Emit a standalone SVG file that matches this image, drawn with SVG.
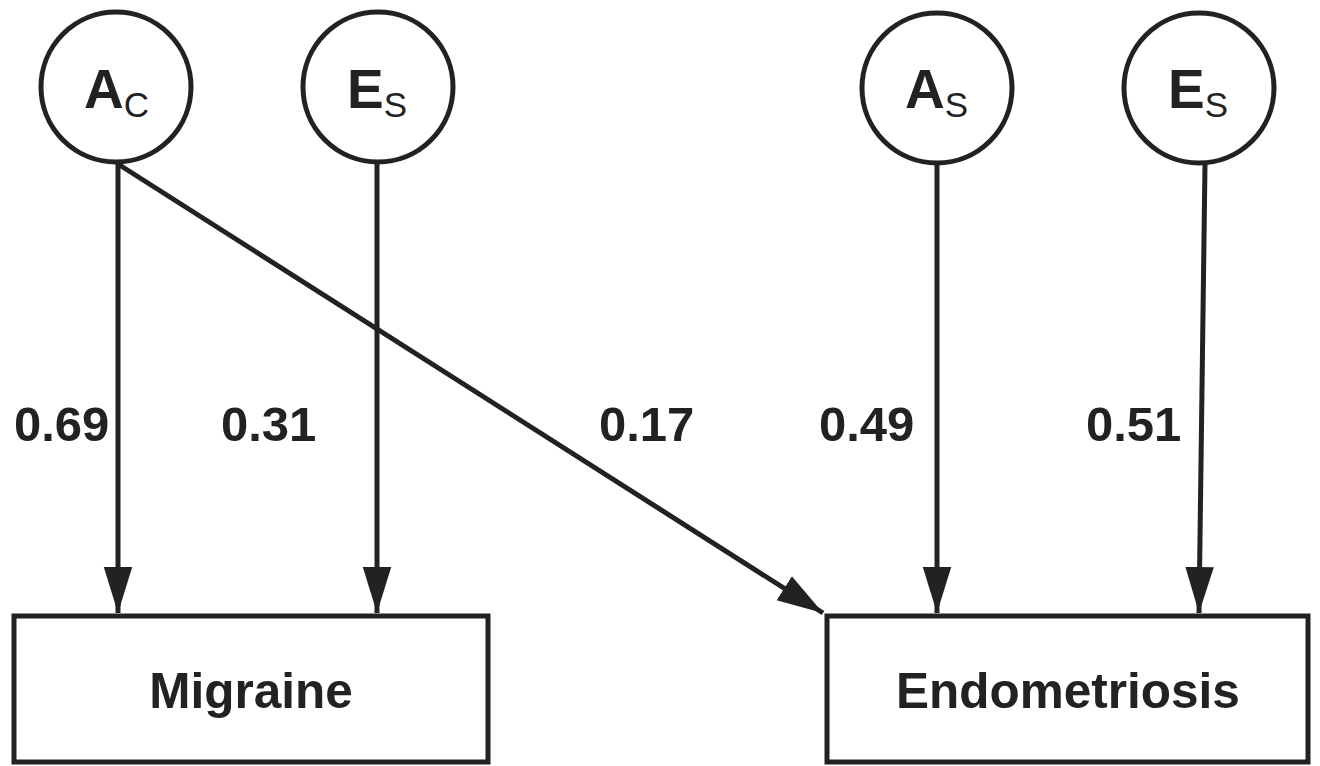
<svg xmlns="http://www.w3.org/2000/svg" width="1320" height="766" viewBox="0 0 1320 766">
<style>
.node{fill:#fff;stroke:#222;stroke-width:5}
.box{fill:#fff;stroke:#222;stroke-width:5}
.lbl{font-family:"Liberation Sans",Arial,sans-serif;font-weight:bold;fill:#222;font-size:49.5px}
.cl{font-family:"Liberation Sans",Arial,sans-serif;font-weight:bold;fill:#222;font-size:55px}
.sub{font-weight:normal;font-size:35px}
.num{font-family:"Liberation Sans",Arial,sans-serif;font-weight:bold;fill:#222;font-size:49px}
.edge{stroke:#222;stroke-width:5;fill:none;marker-end:url(#ah)}
</style>
<defs>
<marker id="ah" markerUnits="userSpaceOnUse" markerWidth="46" markerHeight="30" viewBox="0 0 42 26" refX="42" refY="13" orient="auto">
<path d="M0,0 L42,13 L0,26 Z" fill="#222"/>
</marker>
</defs>
<rect width="1320" height="766" fill="#fff"/>
<g id="connectors">
<line class="edge" x1="118" y1="164" x2="118" y2="613"/>
<line class="edge" x1="377" y1="164" x2="377" y2="613"/>
<line class="edge" x1="118" y1="164" x2="823" y2="613"/>
<line class="edge" x1="937" y1="164" x2="937" y2="613"/>
<line class="edge" x1="1205" y1="164" x2="1199" y2="613"/>
</g>
<g id="labels">
<text class="num" x="14" y="441">0.69</text>
<text class="num" x="221" y="441">0.31</text>
<text class="num" x="599" y="441">0.17</text>
<text class="num" x="819" y="441">0.49</text>
<text class="num" x="1086" y="441">0.51</text>
</g>
<g id="node-Ac">
<circle class="node" cx="116" cy="87" r="75"/>
<text class="cl" x="84" y="108">A<tspan class="sub" dy="9">C</tspan></text>
</g>
<g id="node-Es1">
<circle class="node" cx="378" cy="87" r="75"/>
<text class="cl" x="347" y="108">E<tspan class="sub" dy="9">S</tspan></text>
</g>
<g id="node-As">
<circle class="node" cx="937" cy="88" r="75"/>
<text class="cl" x="905" y="108">A<tspan class="sub" dy="9">S</tspan></text>
</g>
<g id="node-Es2">
<circle class="node" cx="1199" cy="88" r="75"/>
<text class="cl" x="1168" y="108">E<tspan class="sub" dy="9">S</tspan></text>
</g>
<g id="node-migraine">
<rect class="box" x="14" y="616" width="474" height="146"/>
<text class="lbl" x="251" y="708" text-anchor="middle">Migraine</text>
</g>
<g id="node-endometriosis">
<rect class="box" x="827" y="616" width="481" height="146"/>
<text class="lbl" x="1068" y="708" text-anchor="middle">Endometriosis</text>
</g>
</svg>
